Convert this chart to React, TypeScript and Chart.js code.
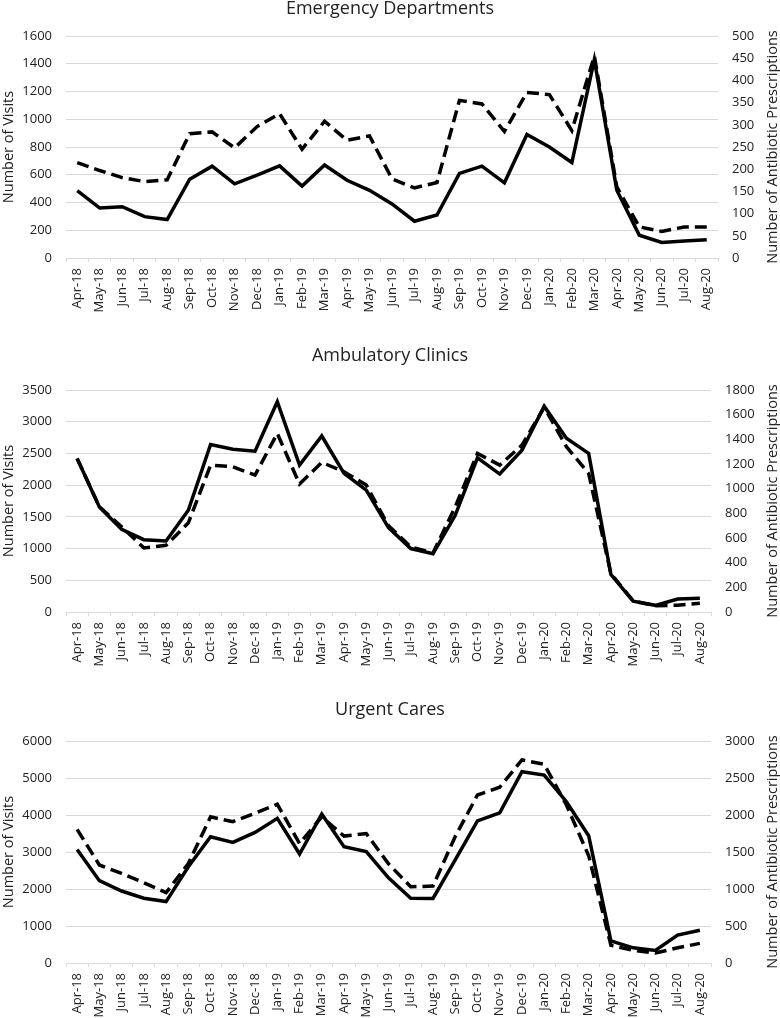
import { useEffect, useRef } from "react";
import { Chart, registerables } from "chart.js";

Chart.register(...registerables);

const months = [
  "Apr-18", "May-18", "Jun-18", "Jul-18", "Aug-18", "Sep-18", "Oct-18", "Nov-18", "Dec-18",
  "Jan-19", "Feb-19", "Mar-19", "Apr-19", "May-19", "Jun-19", "Jul-19", "Aug-19", "Sep-19",
  "Oct-19", "Nov-19", "Dec-19", "Jan-20", "Feb-20", "Mar-20", "Apr-20", "May-20", "Jun-20",
  "Jul-20", "Aug-20",
];

// Emergency Departments
const edVisits = [485, 360, 370, 298, 277, 568, 662, 535, 598, 664, 518, 670, 560, 488, 390, 265, 310, 610, 662, 542, 890, 800, 688, 1430, 488, 164, 112, 122, 132];
const edRx = [215, 197, 181, 172, 176, 280, 284, 248, 296, 325, 245, 308, 265, 275, 178, 158, 170, 355, 347, 285, 373, 368, 287, 455, 160, 70, 60, 70, 70];

// Ambulatory Clinics
const acVisits = [2420, 1655, 1305, 1140, 1120, 1605, 2640, 2565, 2535, 3315, 2315, 2775, 2185, 1920, 1330, 1000, 920, 1525, 2430, 2175, 2550, 3245, 2740, 2500, 590, 170, 105, 205, 215];
const acRx = [1245, 853, 690, 520, 541, 723, 1190, 1178, 1110, 1448, 1037, 1213, 1137, 1029, 700, 528, 479, 853, 1286, 1191, 1353, 1659, 1340, 1123, 310, 90, 50, 55, 70];

// Urgent Cares
const ucVisits = [3070, 2225, 1945, 1750, 1660, 2600, 3410, 3260, 3530, 3910, 2945, 4025, 3145, 3010, 2300, 1750, 1745, 2790, 3840, 4060, 5170, 5080, 4360, 3440, 600, 410, 340, 755, 885];
const ucRx = [1805, 1325, 1210, 1085, 950, 1345, 1975, 1910, 2025, 2145, 1615, 1975, 1715, 1750, 1340, 1030, 1040, 1710, 2270, 2375, 2745, 2685, 2135, 1450, 240, 170, 135, 205, 265];

const LEFT_TITLE = "Number of Visits";
const RIGHT_TITLE = "Number of Antibiotic Prescriptions";

const FONT = "'Open Sans', sans-serif";
const TEXT = "#222222";
const GRID = "#d9d9d9";

type PanelProps = {
  title: string;
  visits: number[];
  rx: number[];
  leftMax: number;
  leftStep: number;
  rightMax: number;
  rightStep: number;
  top: number;
  height: number;
  titlePadBottom: number;
  rightWidth: number;
  xHeight: number;
};

function Panel(p: PanelProps) {
  const ref = useRef<HTMLCanvasElement>(null);
  useEffect(() => {
    if (!ref.current) return;
    const rightTitlePlugin = {
      id: "rightTitle",
      afterDraw(chart: any) {
        const ctx = chart.ctx;
        const area = chart.chartArea;
        ctx.save();
        ctx.translate(chart.width - 7.5, (area.top + area.bottom) / 2);
        ctx.rotate(-Math.PI / 2);
        ctx.font = `14.5px ${FONT}`;
        ctx.fillStyle = TEXT;
        ctx.textAlign = "center";
        ctx.textBaseline = "middle";
        ctx.fillText(RIGHT_TITLE, 0, 0);
        ctx.restore();
      },
    };
    const tickFont = { family: FONT, size: 13 };
    const plain = (v: any) => String(v);
    const chart = new Chart(ref.current, {
      type: "line",
      data: {
        labels: months,
        datasets: [
          {
            label: "Visits",
            data: p.visits,
            yAxisID: "y",
            borderColor: "#000",
            backgroundColor: "#000",
            borderWidth: 3.5,
            pointRadius: 0,
            tension: 0,
            fill: false,
          },
          {
            label: "Antibiotic Prescriptions",
            data: p.rx,
            yAxisID: "y1",
            borderColor: "#000",
            backgroundColor: "#000",
            borderWidth: 3.5,
            borderDash: [12, 6],
            pointRadius: 0,
            tension: 0,
            fill: false,
          },
        ],
      },
      options: {
        animation: false,
        responsive: false,
        devicePixelRatio: 1,
        layout: { padding: 0 },
        plugins: {
          legend: { display: false },
          tooltip: { enabled: false },
          title: {
            display: true,
            text: p.title,
            color: TEXT,
            font: { family: FONT, size: 18, weight: "normal", lineHeight: 1 },
            padding: { top: 0, bottom: p.titlePadBottom },
          },
        },
        scales: {
          x: {
            offset: true,
            grid: {
              offset: true,
              drawOnChartArea: false,
              drawTicks: true,
              tickLength: 4,
              color: GRID,
            },
            border: { color: GRID, width: 1 },
            ticks: {
              autoSkip: false,
              minRotation: 90,
              maxRotation: 90,
              padding: 6,
              font: tickFont,
              color: TEXT,
            },
            afterFit: (s: any) => {
              s.height = p.xHeight;
            },
          },
          y: {
            position: "left",
            min: 0,
            max: p.leftMax,
            ticks: { stepSize: p.leftStep, padding: 14, font: tickFont, color: TEXT, callback: plain },
            grid: { color: GRID, drawTicks: false, lineWidth: 1 },
            border: { display: false },
            title: {
              display: true,
              text: LEFT_TITLE,
              color: TEXT,
              font: { family: FONT, size: 14.5 },
              padding: 0,
            },
            afterFit: (s: any) => {
              s.width = 66;
            },
          },
          y1: {
            position: "right",
            min: 0,
            max: p.rightMax,
            ticks: { stepSize: p.rightStep, padding: 14, font: tickFont, color: TEXT, callback: plain },
            grid: { drawOnChartArea: false, drawTicks: false },
            border: { display: false },
            afterFit: (s: any) => {
              s.width = p.rightWidth;
            },
          },
        },
      } as any,
      plugins: [rightTitlePlugin],
    });
    return () => chart.destroy();
  }, []);
  return (
    <canvas
      ref={ref}
      width={780}
      height={p.height}
      style={{ position: "absolute", left: 0, top: p.top, width: 780, height: p.height }}
    />
  );
}

export default function App() {
  return (
    <div
      style={{
        position: "absolute",
        left: 0,
        top: 0,
        width: 780,
        height: 1018,
        overflow: "hidden",
        background: "#fff",
      }}
    >
      <Panel
        title="Emergency Departments"
        visits={edVisits}
        rx={edRx}
        leftMax={1600}
        leftStep={200}
        rightMax={500}
        rightStep={50}
        top={0}
        height={318}
        titlePadBottom={18}
        rightWidth={62}
        xHeight={60}
      />
      <Panel
        title="Ambulatory Clinics"
        visits={acVisits}
        rx={acRx}
        leftMax={3500}
        leftStep={500}
        rightMax={1800}
        rightStep={200}
        top={347}
        height={325}
        titlePadBottom={25}
        rightWidth={69}
        xHeight={60}
      />
      <Panel
        title="Urgent Cares"
        visits={ucVisits}
        rx={ucRx}
        leftMax={6000}
        leftStep={1000}
        rightMax={3000}
        rightStep={500}
        top={701}
        height={317}
        titlePadBottom={22}
        rightWidth={69}
        xHeight={55}
      />
    </div>
  );
}
